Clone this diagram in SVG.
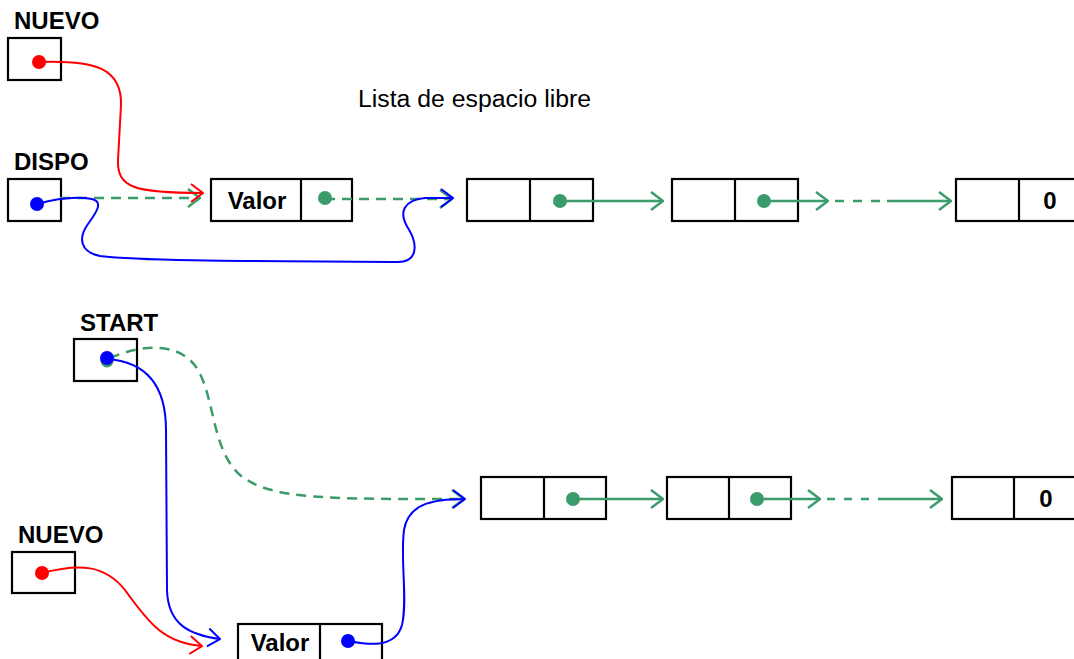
<svg xmlns="http://www.w3.org/2000/svg" width="1074" height="659" viewBox="0 0 1074 659">
<defs>
<style>
.box{fill:#fff;stroke:#000;stroke-width:2.2}
.lbl{font-family:"Liberation Sans",Arial,sans-serif;font-weight:bold;font-size:24px;fill:#000}
.val{font-family:"Liberation Sans",Arial,sans-serif;font-weight:bold;font-size:24px;fill:#000;text-anchor:middle}
.ttl{font-family:"Liberation Sans",Arial,sans-serif;font-size:23px;fill:#000}
.r{fill:none;stroke:#ff0000;stroke-width:2}
.b{fill:none;stroke:#0000ff;stroke-width:2}
.g{fill:none;stroke:#3b9b6b;stroke-width:2.5}
.gd{fill:none;stroke:#3b9b6b;stroke-width:2.5;stroke-dasharray:10 7}
</style>
<marker id="ar" viewBox="0 0 14 20" refX="13" refY="10" markerWidth="14" markerHeight="20" markerUnits="userSpaceOnUse" orient="auto"><path d="M1,1 L13,10 L1,19" fill="none" stroke="#ff0000" stroke-width="2"/></marker>
<marker id="ab" viewBox="0 0 14 20" refX="13" refY="10" markerWidth="14" markerHeight="20" markerUnits="userSpaceOnUse" orient="auto"><path d="M1,1 L13,10 L1,19" fill="none" stroke="#0000ff" stroke-width="2"/></marker>
<marker id="ag" viewBox="0 0 14 20" refX="13" refY="10" markerWidth="14" markerHeight="20" markerUnits="userSpaceOnUse" orient="auto"><path d="M1,1 L13,10 L1,19" fill="none" stroke="#3b9b6b" stroke-width="2.5"/></marker>
</defs>
<rect width="1074" height="659" fill="#fff"/>

<text class="ttl" x="358" y="107" textLength="233" lengthAdjust="spacingAndGlyphs">Lista de espacio libre</text>

<g id="nuevo1"><text class="lbl" x="14" y="29">NUEVO</text><rect class="box" x="8" y="38" width="53" height="42"/></g>
<g id="dispo"><text class="lbl" x="14" y="170">DISPO</text><rect class="box" x="8" y="179" width="53" height="42"/></g>
<g id="valor1"><rect class="box" x="211" y="179" width="141" height="42"/><line x1="301" y1="179" x2="301" y2="221" stroke="#000" stroke-width="2.2"/><text class="val" x="257" y="209">Valor</text></g>
<g id="t2"><rect class="box" x="467" y="179" width="126" height="42"/><line x1="530" y1="179" x2="530" y2="221" stroke="#000" stroke-width="2.2"/></g>
<g id="t3"><rect class="box" x="672" y="179" width="126" height="42"/><line x1="735" y1="179" x2="735" y2="221" stroke="#000" stroke-width="2.2"/></g>
<g id="t4"><rect class="box" x="956" y="179" width="126" height="42"/><line x1="1019" y1="179" x2="1019" y2="221" stroke="#000" stroke-width="2.2"/><text class="val" x="1050" y="209">0</text></g>

<g id="start"><text class="lbl" x="80" y="331">START</text><rect class="box" x="74" y="339" width="63" height="42"/></g>
<g id="nuevo2"><text class="lbl" x="18" y="543">NUEVO</text><rect class="box" x="12" y="552" width="63" height="41"/></g>
<g id="valor2"><rect class="box" x="238" y="624" width="144" height="44"/><line x1="320" y1="624" x2="320" y2="668" stroke="#000" stroke-width="2.2"/><text class="val" x="280" y="651">Valor</text></g>
<g id="b2"><rect class="box" x="481" y="477" width="125" height="42"/><line x1="544" y1="477" x2="544" y2="519" stroke="#000" stroke-width="2.2"/></g>
<g id="b3"><rect class="box" x="667" y="477" width="124" height="42"/><line x1="729" y1="477" x2="729" y2="519" stroke="#000" stroke-width="2.2"/></g>
<g id="b4"><rect class="box" x="952" y="477" width="126" height="42"/><line x1="1014" y1="477" x2="1014" y2="519" stroke="#000" stroke-width="2.2"/><text class="val" x="1046" y="507">0</text></g>

<g id="connectors">
<path class="gd" d="M60,198 L200,198" marker-end="url(#ag)"/>
<path class="gd" d="M325,199 L452,199" marker-end="url(#ag)"/>
<path class="r" d="M39,62 C95,60 122,68 121,105 L118,160 C117,188 135,193 203,193" marker-end="url(#ar)"/>
<path class="b" d="M37,204 C55,199 75,196 92,199 C104,202 96,213 88,224 C78,238 80,252 100,256 C150,262 300,261 398,262 C418,262 418,244 408,228 C398,212 404,200 425,198 L453,198" marker-end="url(#ab)"/>
<path class="g" d="M560,201 L663,201" marker-end="url(#ag)"/>
<path class="g" d="M764,201 L828,201" marker-end="url(#ag)"/>
<path class="g" d="M835,201 L880,201" stroke-dasharray="9 9"/>
<path class="g" d="M887,201 L951,201" marker-end="url(#ag)"/>
<path class="gd" d="M110,358 C140,345 180,340 198,370 C215,400 212,450 240,475 C270,500 330,499 464,499" marker-end="url(#ag)"/>
<path class="b" d="M107,359 C150,362 166,390 166,430 L167,590 C168,625 190,635 220,639" marker-end="url(#ab)"/>
<path class="r" d="M42,573 C80,563 105,565 125,590 C150,625 165,643 202,646" marker-end="url(#ar)"/>
<path class="b" d="M348,641 C365,644 395,650 402,625 C408,600 400,560 404,530 C408,505 430,499 465,499" marker-end="url(#ab)"/>
<path class="g" d="M573,499 L663,499" marker-end="url(#ag)"/>
<path class="g" d="M757,499 L820,499" marker-end="url(#ag)"/>
<path class="g" d="M827,499 L870,499" stroke-dasharray="8 9"/>
<path class="g" d="M878,499 L942,499" marker-end="url(#ag)"/>
</g>

<g id="dots">
<circle cx="39" cy="62" r="7" fill="#ff0000"/>
<circle cx="37" cy="204" r="7" fill="#0000ff"/>
<circle cx="325" cy="198" r="7" fill="#3b9b6b"/>
<circle cx="560" cy="201" r="7" fill="#3b9b6b"/>
<circle cx="764" cy="201" r="7" fill="#3b9b6b"/>
<circle cx="107" cy="361" r="6.5" fill="#3b9b6b"/>
<circle cx="107" cy="358" r="7" fill="#0000ff"/>
<circle cx="42" cy="573" r="7" fill="#ff0000"/>
<circle cx="348" cy="641" r="7" fill="#0000ff"/>
<circle cx="573" cy="499" r="7" fill="#3b9b6b"/>
<circle cx="757" cy="499" r="7" fill="#3b9b6b"/>
</g>
</svg>
